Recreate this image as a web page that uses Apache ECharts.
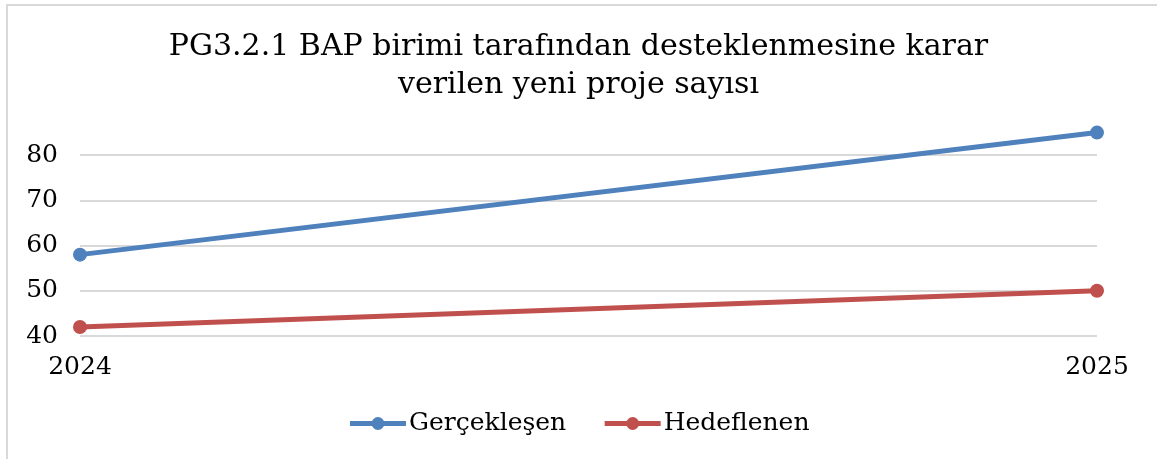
<!DOCTYPE html>
<html>
    <head>
        <meta charset="utf-8">
        <script src="https://cdn.jsdelivr.net/npm/echarts@6/dist/echarts.min.js"></script>
    </head>
    <body style="margin: 0;">
        <div id="main" style="width: 1157px; height: 459px;"></div>
        <script>
            var years = ['2024', '2025'];
            var gerceklesen = [58, 85];
            var hedeflenen = [42, 50];
            var yTicks = [40, 50, 60, 70, 80];

            var chartDom = document.getElementById('main');
            var myChart = echarts.init(chartDom);
            var font = 'DejaVu Serif';

            // son grid cizgisi (90) gorunmesin
            var gridColors = yTicks.map(function () { return '#d9d9d9'; });
            gridColors.push('rgba(0,0,0,0)');

            var option = {
                animation: false,
                backgroundColor: '#fff',
                title: {
                    text: 'PG3.2.1 BAP birimi tarafından desteklenmesine karar\nverilen yeni proje sayısı',
                    left: 'center',
                    top: 23,
                    textStyle: {
                        fontFamily: font,
                        fontWeight: 'normal',
                        fontSize: 30,
                        lineHeight: 38,
                        color: '#000'
                    }
                },
                graphic: [{
                    type: 'polyline',
                    shape: { points: [[7, 459], [7, 5], [1157, 5]] },
                    style: { stroke: '#d9d9d9', lineWidth: 2, fill: null }
                }],
                legend: {
                    bottom: 18,
                    left: 'center',
                    itemWidth: 56,
                    itemHeight: 16,
                    itemGap: 36,
                    lineStyle: { width: 5 },
                    textStyle: { fontFamily: font, fontSize: 25, color: '#000', padding: [0, 0, 0, -2] },
                    data: ['Gerçekleşen', 'Hedeflenen']
                },
                grid: {
                    left: 80,
                    right: 60,
                    top: 110,
                    bottom: 123
                },
                xAxis: {
                    type: 'category',
                    data: years,
                    boundaryGap: false,
                    axisLine: { show: false },
                    axisTick: { show: false },
                    axisLabel: {
                        margin: 19,
                        fontFamily: font,
                        fontSize: 25,
                        color: '#000'
                    }
                },
                yAxis: {
                    type: 'value',
                    min: 40,
                    max: 90,
                    interval: 10,
                    axisLine: { show: false },
                    axisTick: { show: false },
                    axisLabel: {
                        showMaxLabel: false,
                        margin: 22,
                        fontFamily: font,
                        fontSize: 25,
                        color: '#000'
                    },
                    splitLine: { lineStyle: { color: gridColors, width: 2 } }
                },
                series: [{
                    name: 'Gerçekleşen',
                    type: 'line',
                    data: gerceklesen,
                    symbol: 'circle',
                    symbolSize: 14,
                    itemStyle: { color: '#4f81bd' },
                    lineStyle: { width: 5, color: '#4f81bd' }
                }, {
                    name: 'Hedeflenen',
                    type: 'line',
                    data: hedeflenen,
                    symbol: 'circle',
                    symbolSize: 14,
                    itemStyle: { color: '#c0504d' },
                    lineStyle: { width: 5, color: '#c0504d' }
                }]
            };

            myChart.setOption(option);
        </script>
    </body>
</html>
